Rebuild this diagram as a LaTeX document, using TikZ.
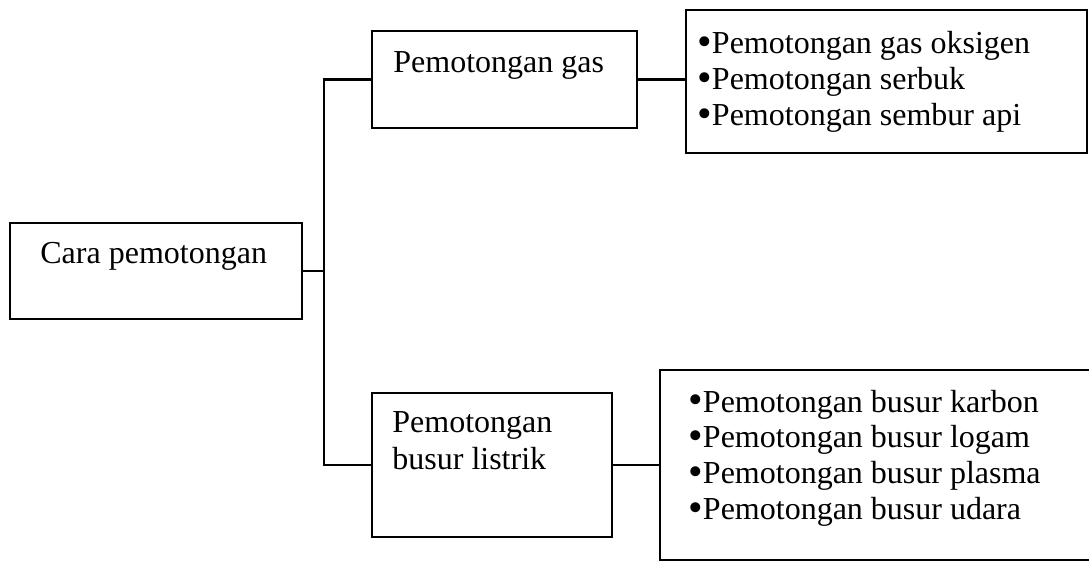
\documentclass[tikz,border=0pt]{standalone}
\usepackage{fontspec}
\usepackage{graphicx}
\setmainfont{Liberation Serif}
\newcommand{\bulmark}{\raisebox{-0.06em}{\scalebox{1.3}{•}}}
\begin{document}
\begin{tikzpicture}[x=0.5pt,y=-0.5pt,
  box/.style={draw, line width=1.25pt, inner sep=0pt, outer sep=0pt, anchor=north west},
  txt/.style={inner sep=0pt, anchor=base west, font=\fontsize{16pt}{18pt}\selectfont},
  listtxt/.style={txt, align=left},
  conn/.style={line width=1.25pt}]
\useasboundingbox (0,0) rectangle (1089,561);
\clip (0,0) rectangle (1089,561);
% boxes
\node[box, minimum width=146pt, minimum height=48pt] (cara) at (10,223) {};
\node[box, minimum width=132.5pt, minimum height=48.5pt] (gas) at (372,31) {};
\node[box, minimum width=200.5pt, minimum height=71.5pt] (gaslist) at (686,10) {};
\node[box, minimum width=120pt, minimum height=72pt] (busur) at (372,393) {};
\node[box, minimum width=220pt, minimum height=95pt] (busurlist) at (660,370) {};
% texts (multi-line nodes are placed by the baseline of their last line)
\node[txt] (t1) at (40,264) {Cara pemotongan};
\node[txt] (t2) at (393,73) {Pemotongan gas};
\node[listtxt] (g) at (697,126) {\bulmark Pemotongan gas oksigen\\ \bulmark Pemotongan serbuk\\ \bulmark Pemotongan sembur api};
\node[listtxt, font=\fontsize{16pt}{18.5pt}\selectfont] (b) at (392,470) {Pemotongan\\ busur listrik};
\node[listtxt] (l) at (688,520) {\bulmark Pemotongan busur karbon\\ \bulmark Pemotongan busur logam\\ \bulmark Pemotongan busur plasma\\ \bulmark Pemotongan busur udara};
% connectors
\coordinate (trunk) at (324,271);
\draw[conn] (cara.east) -- (cara.east -| trunk);
\draw[conn] (gas.west) -| (trunk) |- (busur.west);
\draw[conn] (gas.east) -- (gas.east -| gaslist.west);
\draw[conn] (busur.east) -- (busur.east -| busurlist.west);
\end{tikzpicture}
\end{document}
